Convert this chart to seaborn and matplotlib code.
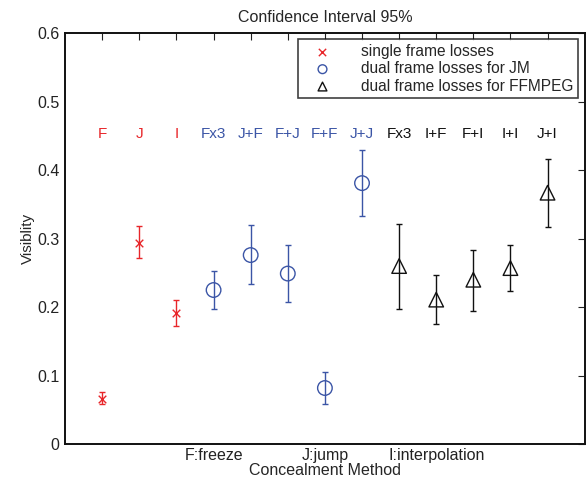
import numpy as np
import pandas as pd
import matplotlib
matplotlib.use("Agg")
import matplotlib.pyplot as plt
import seaborn as sns

# values
positions = list(range(1, 14))
case_labels = ['F', 'J', 'I', 'Fx3', 'J+F', 'F+J', 'F+F', 'J+J',
               'Fx3', 'I+F', 'F+I', 'I+I', 'J+I']
groups = ['single'] * 3 + ['jm'] * 5 + ['ffmpeg'] * 5
visibility = [0.066, 0.294, 0.192, 0.225, 0.276, 0.249, 0.082, 0.381,
              0.260, 0.211, 0.240, 0.257, 0.367]
ci_low = [0.058, 0.272, 0.173, 0.197, 0.234, 0.208, 0.059, 0.333,
          0.197, 0.175, 0.195, 0.224, 0.317]
ci_high = [0.076, 0.318, 0.211, 0.253, 0.320, 0.291, 0.105, 0.429,
           0.322, 0.247, 0.284, 0.290, 0.416]
method_ticks = [4, 7, 10]
method_names = ['F:freeze', 'J:jump', 'I:interpolation']

df = pd.DataFrame({'pos': positions, 'label': case_labels, 'group': groups,
                   'vis': visibility, 'lo': ci_low, 'hi': ci_high})

styles = {
    'single': dict(color='#e8262a', marker='x', size=30, leg=28, name='single frame losses'),
    'jm': dict(color='#3b55a6', marker='o', size=110, leg=40, name='dual frame losses for JM'),
    'ffmpeg': dict(color='#111111', marker='^', size=110, leg=40, name='dual frame losses for FFMPEG'),
}

sns.set_style("white")
plt.rcParams['font.family'] = ['Liberation Sans', 'DejaVu Sans']

fig = plt.figure(figsize=(5.87, 4.86), dpi=100)
ax = fig.add_axes([0.111, 0.086, 0.885, 0.846])

for g, st in styles.items():
    sub = df[df['group'] == g]
    ax.errorbar(sub['pos'], sub['vis'],
                yerr=[sub['vis'] - sub['lo'], sub['hi'] - sub['vis']],
                fmt='none', ecolor=st['color'], elinewidth=1.0,
                capsize=2, capthick=1.0)
    if st['marker'] == 'x':
        sns.scatterplot(x=sub['pos'], y=sub['vis'], marker='x', color=st['color'],
                        s=st['size'], linewidth=1.0, ax=ax, label=st['name'], zorder=3)
    else:
        sns.scatterplot(x=sub['pos'], y=sub['vis'], marker=st['marker'],
                        facecolors='none', edgecolor=st['color'], s=st['size'],
                        linewidth=1.0, ax=ax, label=st['name'], zorder=3)

for _, row in df.iterrows():
    ax.text(row['pos'], 0.452, row['label'], ha='center', va='center',
            fontsize=11, color=styles[row['group']]['color'])

ax.set_xlim(0, 14)
ax.set_ylim(0, 0.6)
ax.set_xticks(positions)
ax.set_xticklabels([method_names[method_ticks.index(p)] if p in method_ticks else ''
                    for p in positions])
ax.set_yticks(np.arange(0, 0.61, 0.1))
ax.set_yticklabels(['0', '0.1', '0.2', '0.3', '0.4', '0.5', '0.6'])
ax.tick_params(direction='in', length=5, width=0.8, top=True, right=True,
               labelsize=11.5, colors='#222222', pad=4)
ax.tick_params(axis='x', pad=3)
for sp in ax.spines.values():
    sp.set_linewidth(1.4)
    sp.set_color('#111111')

ax.set_xlabel('Concealment Method', fontsize=11.5, labelpad=0)
ax.set_ylabel('Visiblity', fontsize=11, labelpad=1.5)
ax.set_title('Confidence Interval 95%', fontsize=11.5, pad=8)

leg = ax.legend(loc='upper right', fontsize=11.2, frameon=True, fancybox=False,
                edgecolor='#111111', borderaxespad=0.4, handletextpad=1.2,
                labelspacing=0.15, borderpad=0.3, handlelength=2.6)
leg.get_frame().set_linewidth(1.2)
for h, st in zip(leg.legend_handles, styles.values()):
    h.set_sizes([st['leg']])

fig.savefig('out.png', dpi=100)
